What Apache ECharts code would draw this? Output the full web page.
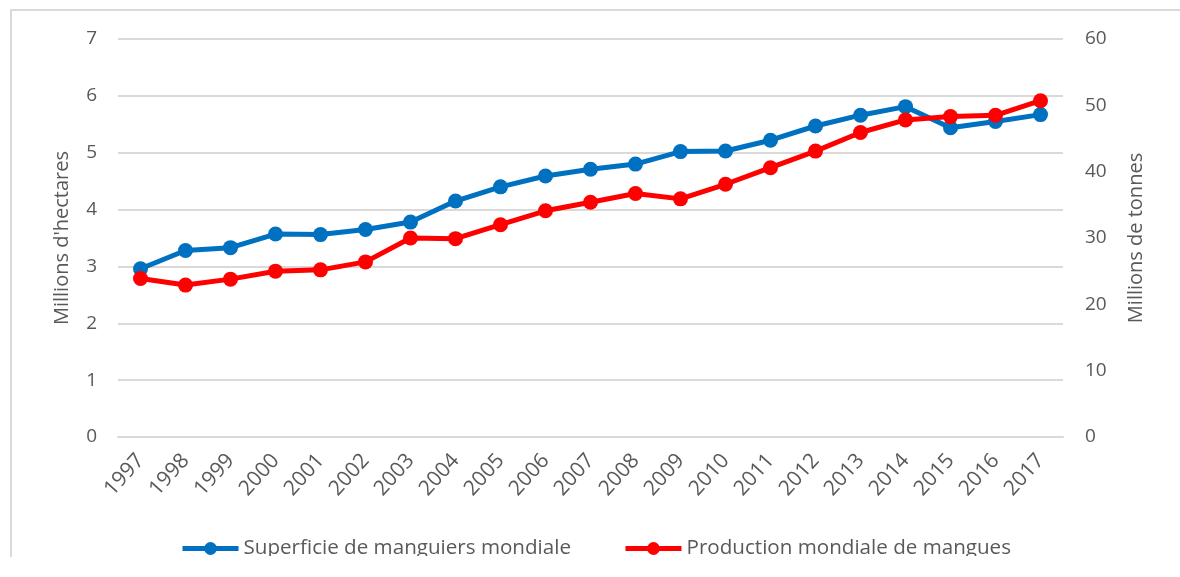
<!DOCTYPE html>
<html>
<head>
<meta charset="utf-8">
<script src="https://cdn.jsdelivr.net/npm/echarts@6/dist/echarts.min.js"></script>
<style>
    body { margin: 0; background: #fff; }
    #chart { position: absolute; left: 0; top: 0; width: 1180px; height: 577px; }
    #frame { position: absolute; left: 10px; top: 9px; width: 1170px; height: 546px;
             border-left: 2px solid #d9d9d9; border-top: 2px solid #d9d9d9; pointer-events: none; }
    #cut { position: absolute; left: 12px; top: 556px; width: 1168px; height: 21px; background: #fff; }
</style>
</head>
<body>
<div id="chart"></div>
<div id="cut"></div>
<div id="frame"></div>
<script>
var years = ['1997','1998','1999','2000','2001','2002','2003','2004','2005','2006','2007',
             '2008','2009','2010','2011','2012','2013','2014','2015','2016','2017'];
// superficie, millions d'hectares (axe gauche)
var superficie = [2.96, 3.28, 3.33, 3.57, 3.56, 3.65, 3.78, 4.15, 4.40, 4.59, 4.71,
                  4.80, 5.02, 5.03, 5.22, 5.47, 5.66, 5.81, 5.44, 5.55, 5.67];
// production, millions de tonnes (axe droit)
var production = [23.9, 22.9, 23.8, 25.0, 25.2, 26.4, 30.0, 29.9, 32.0, 34.1, 35.4,
                  36.7, 35.9, 38.1, 40.6, 43.1, 45.9, 47.8, 48.3, 48.5, 50.7];

var txt = '#595959';
var font = 'Open Sans';

var myChart = echarts.init(document.getElementById('chart'));
myChart.setOption({
    animation: false,
    color: ['#0070C0', '#FF0000'],
    textStyle: { fontFamily: font },
    grid: { left: 118, right: 117, top: 39, bottom: 140 },
    legend: {
        top: 533,
        left: 175,
        itemWidth: 56,
        itemHeight: 16,
        itemGap: 52,
        lineStyle: { width: 5 },
        textStyle: { color: txt, fontSize: 20.6, fontFamily: font },
        data: ['Superficie de manguiers mondiale', 'Production mondiale de mangues']
    },
    xAxis: {
        type: 'category',
        data: years,
        axisLine: { lineStyle: { color: '#d9d9d9', width: 2 } },
        axisTick: { show: false },
        axisLabel: { rotate: 48, color: txt, fontSize: 21, margin: 20, interval: 0 }
    },
    yAxis: [
        {
            type: 'value', min: 0, max: 7, interval: 1,
            name: "Millions d'hectares", nameLocation: 'middle', nameGap: 46, nameRotate: 90,
            nameTextStyle: { color: txt, fontSize: 20 },
            axisLabel: { color: txt, fontSize: 19, margin: 21 },
            splitLine: { lineStyle: { color: '#d9d9d9', width: 2 } }
        },
        {
            type: 'value', min: 0, max: 60, interval: 10,
            name: 'Millions de tonnes', nameLocation: 'middle', nameGap: 63, nameRotate: 90,
            nameTextStyle: { color: txt, fontSize: 20 },
            axisLabel: { color: txt, fontSize: 19, margin: 22 },
            splitLine: { show: false }
        }
    ],
    series: [
        {
            name: 'Superficie de manguiers mondiale',
            type: 'line',
            yAxisIndex: 0,
            data: superficie,
            symbol: 'circle',
            symbolSize: 15,
            lineStyle: { width: 5 }
        },
        {
            name: 'Production mondiale de mangues',
            type: 'line',
            yAxisIndex: 1,
            data: production,
            symbol: 'circle',
            symbolSize: 15,
            lineStyle: { width: 5 }
        }
    ]
});
</script>
</body>
</html>
